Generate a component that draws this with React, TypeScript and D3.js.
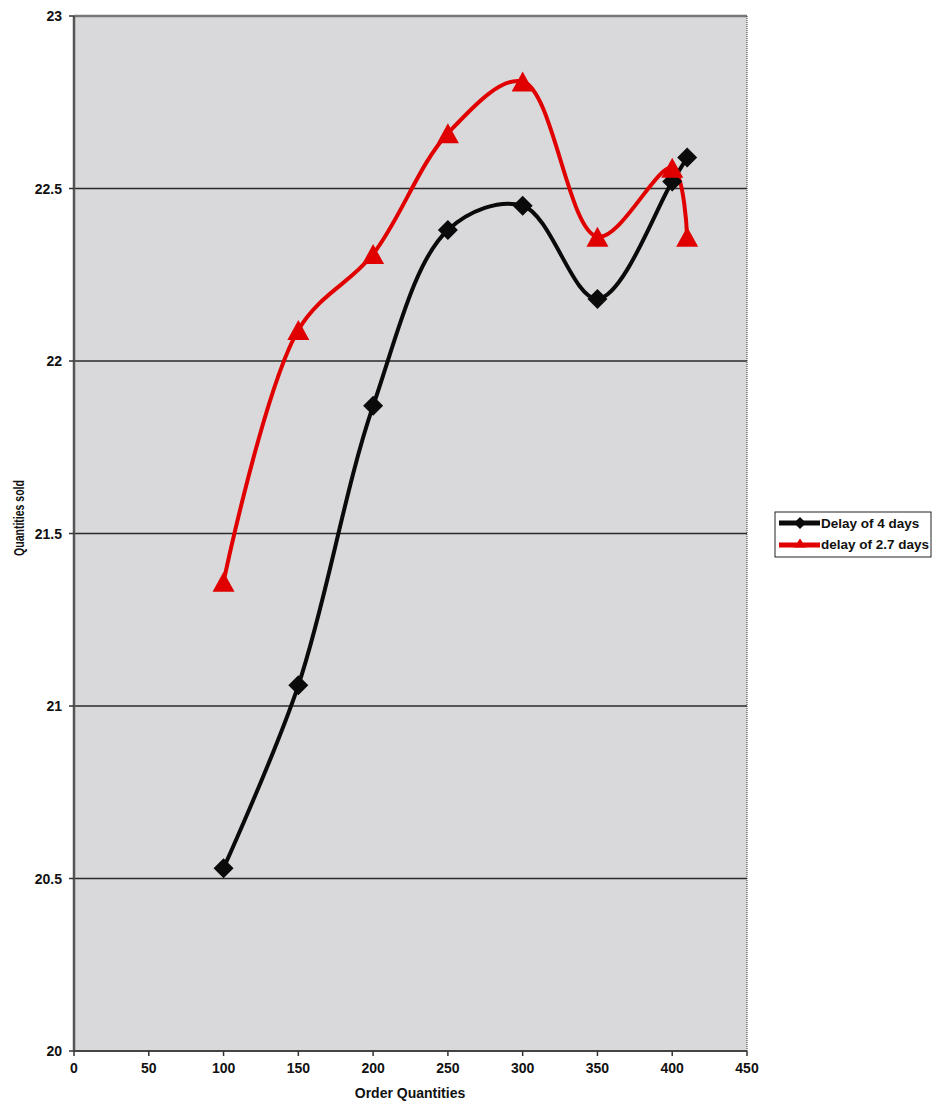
import React from "react";
import * as d3 from "d3";

const orderQty = [100, 150, 200, 250, 300, 350, 400, 410];
const delay4 = [20.53, 21.06, 21.87, 22.38, 22.45, 22.18, 22.52, 22.59];
const delay27 = [21.36, 22.09, 22.31, 22.66, 22.81, 22.36, 22.56, 22.36];
const xTicks = [0, 50, 100, 150, 200, 250, 300, 350, 400, 450];
const yTicks = [20, 20.5, 21, 21.5, 22, 22.5, 23];
const seriesNames = ["Delay of 4 days", "delay of 2.7 days"];

const W = 937, H = 1106;
const L = 74, R = 747, T = 16, B = 1051;

export default function App() {
  const x = d3.scaleLinear().domain([0, 450]).range([L, R]);
  const y = d3.scaleLinear().domain([20, 23]).range([B, T]);
  const line = d3
    .line<[number, number]>()
    .x((d) => x(d[0]))
    .y((d) => y(d[1]))
    .curve(d3.curveCatmullRom.alpha(0.5));
  const blackPts = orderQty.map((q, i) => [q, delay4[i]] as [number, number]);
  const redPts = orderQty.map((q, i) => [q, delay27[i]] as [number, number]);
  const font = "Arial, 'Liberation Sans', sans-serif";
  const diamond = (cx: number, cy: number, r: number) =>
    `M${cx},${cy - r}L${cx + r},${cy}L${cx},${cy + r}L${cx - r},${cy}Z`;
  const tri = (cx: number, cy: number, w: number, h: number) =>
    `M${cx},${cy - h / 2}L${cx + w / 2},${cy + h / 2}L${cx - w / 2},${cy + h / 2}Z`;

  return (
    <svg width={W} height={H} style={{ position: "absolute", left: 0, top: 0 }} fontFamily={font}>
      <rect x={0} y={0} width={W} height={H} fill="#ffffff" />
      <rect x={L} y={T} width={R - L} height={B - T} fill="#d9d9dc" />
      {yTicks.slice(1, -1).map((t) => (
        <line key={t} x1={L} x2={R} y1={y(t)} y2={y(t)} stroke="#2a2a2a" strokeWidth={1.5} />
      ))}
      {/* borders */}
      <line x1={L} x2={R} y1={T} y2={T} stroke="#777" strokeWidth={2.5} />
      <line x1={R} x2={R} y1={T} y2={B} stroke="#333" strokeWidth={1} strokeDasharray="1,1" />
      <line x1={L} x2={L} y1={T} y2={B} stroke="#555" strokeWidth={2.5} />
      <line x1={L} x2={R} y1={B} y2={B} stroke="#444" strokeWidth={2} />
      {xTicks.map((t) => (
        <g key={t}>
          <line x1={x(t)} x2={x(t)} y1={B} y2={B + 5} stroke="#333" strokeWidth={1.5} />
          <text x={x(t)} y={B + 22} textAnchor="middle" fontSize={14} fontWeight="bold" fill="#111">{t}</text>
        </g>
      ))}
      {yTicks.map((t) => (
        <g key={t}>
          <line x1={L - 5} x2={L} y1={y(t)} y2={y(t)} stroke="#333" strokeWidth={1.5} />
          <text x={L - 12} y={y(t) + 5} textAnchor="end" fontSize={14} fontWeight="bold" fill="#111">{t}</text>
        </g>
      ))}
      <text x={410} y={1098} textAnchor="middle" fontSize={14} fontWeight="bold" fill="#111">Order Quantities</text>
      <text transform={`translate(24,518) rotate(-90) scale(0.7,1)`} textAnchor="middle" fontSize={15} fontWeight="bold" fill="#111">Quantities sold</text>

      <path d={line(blackPts) || ""} fill="none" stroke="#0a0a0a" strokeWidth={4} />
      <path d={line(redPts) || ""} fill="none" stroke="#e00000" strokeWidth={4} />
      {blackPts.map((p, i) => (
        <path key={"b" + i} d={diamond(x(p[0]), y(p[1]), 10)} fill="#0a0a0a" />
      ))}
      {redPts.map((p, i) => (
        <path key={"r" + i} d={tri(x(p[0]), y(p[1]), 22, 20)} fill="#e00000" />
      ))}

      {/* legend */}
      <rect x={775} y={512} width={156} height={45} fill="#fff" stroke="#222" strokeWidth={1} />
      <line x1={779} x2={820} y1={523} y2={523} stroke="#0a0a0a" strokeWidth={5} />
      <path d={diamond(800, 523, 6)} fill="#0a0a0a" />
      <text x={821} y={528} fontSize={13.5} fontWeight="bold" fill="#111">{seriesNames[0]}</text>
      <line x1={779} x2={820} y1={545} y2={545} stroke="#e00000" strokeWidth={5} />
      <path d={tri(800, 543, 12, 9)} fill="#e00000" />
      <text x={821} y={549} fontSize={13.5} fontWeight="bold" fill="#111">{seriesNames[1]}</text>
    </svg>
  );
}
